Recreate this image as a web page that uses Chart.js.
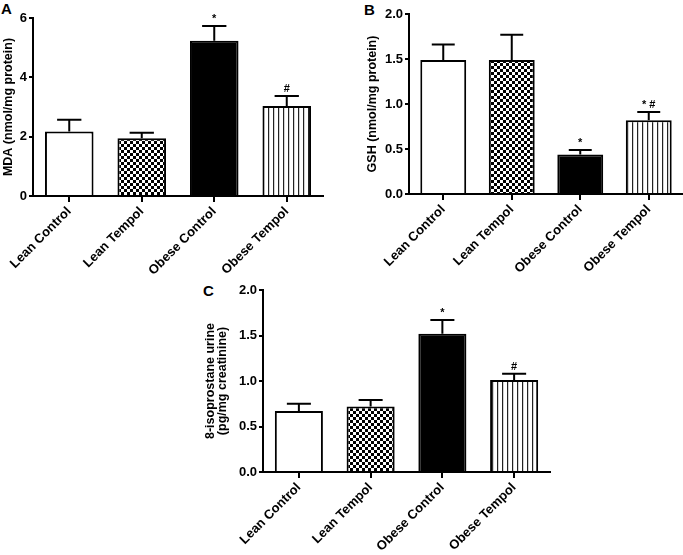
<!DOCTYPE html>
<html>
<head>
<meta charset="utf-8">
<script src="https://cdn.jsdelivr.net/npm/chart.js@4.4.1/dist/chart.umd.min.js"></script>
<style>
  html, body { margin: 0; padding: 0; background: #fff; }
  body { width: 683px; height: 555px; position: relative; overflow: hidden; font-family: "Liberation Sans", Arial, sans-serif; }
  canvas { position: absolute; }
  .lbl { position: absolute; font-weight: bold; font-size: 15px; color: #000; line-height: 1; }
</style>
</head>
<body>
<div class="lbl" style="left:1px;top:1px;">A</div>
<div class="lbl" style="left:364px;top:2px;">B</div>
<div class="lbl" style="left:203px;top:283px;">C</div>
<canvas id="cA" width="341" height="275" style="left:1px;top:0px;"></canvas>
<canvas id="cB" width="318" height="275" style="left:365px;top:0px;"></canvas>
<canvas id="cC" width="370" height="285" style="left:200px;top:270px;"></canvas>
<script>
// ---- data ----
const categories = ["Lean Control", "Lean Tempol", "Obese Control", "Obese Tempol"];
const mdaMean = [2.17, 1.95, 5.23, 3.03];
const mdaSem  = [0.40, 0.18, 0.50, 0.34];
const mdaMarks = ["", "", "*", "#"];
const gshMean = [1.49, 1.49, 0.44, 0.82];
const gshSem  = [0.17, 0.28, 0.05, 0.09];
const gshMarks = ["", "", "*", "* #"];
const isoMean = [0.67, 0.72, 1.52, 1.01];
const isoSem  = [0.08, 0.07, 0.15, 0.07];
const isoMarks = ["", "", "*", "#"];
const mdaTicks = [0, 2, 4, 6];
const ratioTicks = [0.0, 0.5, 1.0, 1.5, 2.0];

// ---- patterns ----
function checker() {
  const c = document.createElement('canvas'); c.width = 6; c.height = 6;
  const g = c.getContext('2d');
  g.fillStyle = '#fff'; g.fillRect(0, 0, 6, 6);
  g.fillStyle = '#000'; g.fillRect(0, 0, 3, 3); g.fillRect(3, 3, 3, 3);
  return g.createPattern(c, 'repeat');
}
function stripes() {
  const c = document.createElement('canvas'); c.width = 5; c.height = 5;
  const g = c.getContext('2d');
  g.fillStyle = '#fff'; g.fillRect(0, 0, 5, 5);
  g.fillStyle = '#222'; g.fillRect(2, 0, 1.2, 5);
  return g.createPattern(c, 'repeat');
}
const fills = ['#ffffff', checker(), '#000000', stripes()];
const FONT = "'Liberation Sans', Arial, sans-serif";

const errPlugin = {
  id: 'errbars',
  afterDatasetsDraw(chart, args, opts) {
    const ctx = chart.ctx;
    const meta = chart.getDatasetMeta(0);
    const ys = chart.scales.y;
    ctx.save();
    ctx.strokeStyle = '#000'; ctx.lineWidth = 2;
    meta.data.forEach((bar, i) => {
      const m = opts.mean[i], s = opts.sem[i];
      const y0 = ys.getPixelForValue(m);
      const y1 = ys.getPixelForValue(m + s);
      const half = bar.width / 4;
      ctx.beginPath();
      ctx.moveTo(bar.x, y0); ctx.lineTo(bar.x, y1);
      ctx.moveTo(bar.x - half, y1); ctx.lineTo(bar.x + half, y1);
      ctx.stroke();
      if (opts.marks[i]) {
        ctx.fillStyle = '#000';
        ctx.font = 'bold 11px ' + FONT;
        ctx.textAlign = 'center'; ctx.textBaseline = 'middle';
        ctx.fillText(opts.marks[i], bar.x, y1 - 7);
      }
    });
    ctx.restore();
  }
};

function makeChart(id, mean, sem, marks, ticks, title, yw, xh, pad) {
  new Chart(document.getElementById(id), {
    type: 'bar',
    data: {
      labels: categories,
      datasets: [{
        data: mean,
        backgroundColor: fills,
        borderColor: '#000',
        borderWidth: 2,
        borderSkipped: 'bottom',
        barPercentage: 0.67,
        categoryPercentage: 1.0
      }]
    },
    plugins: [errPlugin],
    options: {
      responsive: false,
      animation: false,
      devicePixelRatio: 1,
      layout: { padding: pad },
      plugins: {
        legend: { display: false },
        tooltip: { enabled: false },
        errbars: { mean: mean, sem: sem, marks: marks }
      },
      scales: {
        x: {
          offset: true,
          grid: { display: true, offset: false, drawOnChartArea: false, drawTicks: true, tickLength: 6, color: '#000', lineWidth: 2 },
          border: { display: true, color: '#000', width: 2 },
          ticks: { color: '#000', font: { family: FONT, size: 13, weight: 'bold' }, minRotation: 45, maxRotation: 45, autoSkip: false, padding: 2 },
          afterFit: s => { s.height = xh; }
        },
        y: {
          min: ticks[0], max: ticks[ticks.length - 1],
          afterBuildTicks: s => { s.ticks = ticks.map(v => ({ value: v })); },
          grid: { display: true, drawOnChartArea: false, drawTicks: true, tickLength: 4, color: '#000', lineWidth: 2 },
          border: { display: true, color: '#000', width: 2 },
          ticks: {
            color: '#000', font: { family: FONT, size: 13, weight: 'bold' }, padding: 2,
            callback: v => (ticks[ticks.length - 1] > 2 ? String(v) : Number(v).toFixed(1))
          },
          title: { display: true, text: title, color: '#000', font: { family: FONT, size: 12.5, weight: 'bold', lineHeight: 1.0 }, padding: { top: 1, bottom: 0 } },
          afterFit: s => { s.width = yw; }
        }
      }
    }
  });
}

makeChart('cA', mdaMean, mdaSem, mdaMarks, mdaTicks, 'MDA (nmol/mg protein)', 32, 79, { top: 18, right: 19, left: 0, bottom: 0 });
makeChart('cB', gshMean, gshSem, gshMarks, ratioTicks, 'GSH (nmol/mg protein)', 44, 81, { top: 14, right: 0, left: 0, bottom: 0 });
makeChart('cC', isoMean, isoSem, isoMarks, ratioTicks, ['8-isoprostane urine', '(pg/mg creatinine)'], 60, 83, { top: 20, right: 20, left: 3, bottom: 0 });
</script>
</body>
</html>
